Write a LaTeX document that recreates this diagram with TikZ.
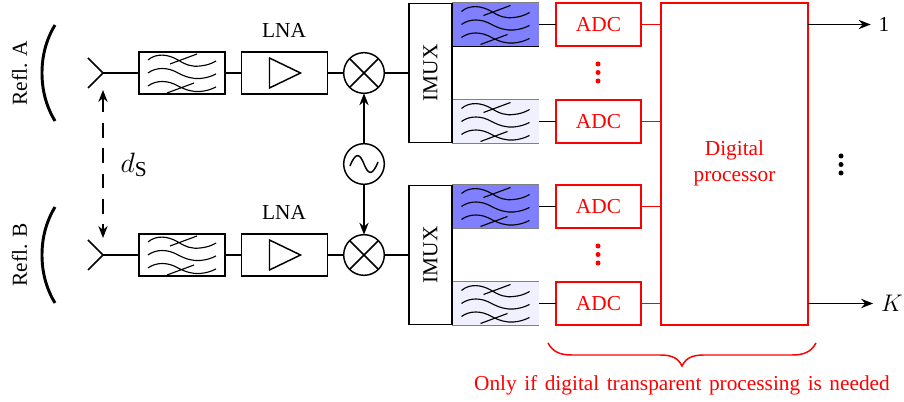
\RequirePackage{fix-cm}
\documentclass[tikz,border=0pt]{standalone}
\usepackage{fontspec}
\setmainfont{Liberation Serif}
\usetikzlibrary{arrows.meta}
\DeclareMathSizes{16}{16}{12}{9}
\DeclareMathSizes{18}{18}{13}{9}
\DeclareMathSizes{21}{21}{16}{12}
\definecolor{bluef}{HTML}{8080FF}
\definecolor{palef}{HTML}{F0F0FF}
\tikzset{
  every node/.style={font=\fontsize{16}{19}\selectfont,inner sep=0pt,outer sep=0pt},
  wire/.style={line width=1.2pt},
  arrowed/.style={line width=1.1pt,-{Stealth[length=9pt,width=7pt]}},
  box/.style={draw,line width=1.1pt,minimum width=64.5pt,minimum height=31.5pt,anchor=center},
  colourbox/.style={minimum width=65pt,minimum height=32.5pt,anchor=center},
  adcbox/.style={draw=red,text=red,line width=1.1pt,minimum width=64pt,minimum height=32pt,anchor=center},
  circ/.style={draw,circle,line width=1.1pt,minimum size=30.5pt,anchor=center},
  imuxbox/.style={draw,line width=1.1pt,minimum width=32.5pt,minimum height=104.5pt,anchor=center},
  reflector/.style={line width=2.2pt},
  redwire/.style={draw=red,line width=1.2pt},
  waves/.pic={
    \draw[line width=.85pt]
      (-34,-13) .. controls (-26,-20) and (-14,-19) .. (-4,-13) .. controls (4,-8) and (10,-6) .. (18,-7) .. controls (24,-7.5) and (29,-9) .. (34,-12)
      (-34,0) .. controls (-26,-6) and (-14,-6) .. (-4,0) .. controls (4,4) and (10,6) .. (18,5.5) .. controls (24,5) and (29,3.5) .. (34,1)
      (-34,13) .. controls (-26,7) and (-14,7) .. (-4,13) .. controls (4,17) and (10,19) .. (18,18.5) .. controls (24,18) and (29,16.5) .. (34,14)
      (-12,-9) -- (15,-19)
      (-15,20) -- (12,10);
  },
  amptri/.pic={\draw[line width=1.1pt] (-15,-15) -- (-15,15) -- (16,0) -- cycle;},
  feed/.pic={\draw[line width=1.1pt] (-15,-15) -- (0,0) -- (-15,15);},
  sinewave/.pic={\draw[line width=1.1pt] (-14,2) .. controls (-8,-13) and (-4,-10) .. (0,0) .. controls (4,10) and (8,13) .. (14,-2);},
}
\begin{document}
\begin{tikzpicture}[x=0.75pt,y=-0.75pt]
\useasboundingbox (0,0) rectangle (904,402);

% Reflectors
\draw[reflector] (55,25) .. controls (46,40) and (42,56) .. (42,73) .. controls (42,90) and (46,106) .. (55,121);
\draw[reflector] (55,207) .. controls (46,222) and (42,238) .. (42,255) .. controls (42,272) and (46,288) .. (55,303);
\node[rotate=90] (reflA) at (19.5,73) {Refl. A};
\node[rotate=90] (reflB) at (19.5,255) {Refl. B};

% Feeds
\coordinate (feedA) at (103,73);
\coordinate (feedB) at (103,255);
\pic at (feedA) {feed};
\pic at (feedB) {feed};
\coordinate (dsA) at (103,90);
\coordinate (dsB) at (103,238);
\draw[wire,line width=1pt,dash pattern=on 11pt off 8pt,{Stealth[length=9pt,width=7pt]}-{Stealth[length=9pt,width=7pt]}] (dsA) -- (dsB);
\node[font=\fontsize{21}{24}\selectfont] (ds) at (134,165) {$d_{\mathrm{S}}$};

% Channel filters
\foreach \nm/\yy/\col/\edge in {cA/24.5/bluef/gray,dA/121.5/palef/gray,cB/206.5/bluef/gray,dB/303.5/palef/gray}{
  \node[colourbox,fill=\col] (\nm) at (495.5,\yy) {};
  \draw[line width=.6pt,\edge] (\nm.north west) -- (\nm.north east);
  \draw[line width=.6pt,\edge] (\nm.south west) -- (\nm.south east);
  \pic at (\nm) {waves};
}
\draw[line width=.8pt] (cA.south west) -- (cA.south east);

% Chain A
\node[box] (filtA) at (182,73) {};
\pic at (filtA) {waves};
\node[box] (ampA) at (284.5,73) {};
\pic at (ampA) {amptri};
\node (lnaAt) at (284,30) {LNA};
\node[circ] (mixA) at (364,73) {};
\draw[wire] (mixA.45) -- (mixA.225) (mixA.135) -- (mixA.315);
\node[imuxbox] (imuxA) at (430.5,73) {};
\node[rotate=90] (imuxAt) at (430.5,73) {IMUX};

% Chain B
\node[box] (filtB) at (182,255) {};
\pic at (filtB) {waves};
\node[box] (ampB) at (284.5,255) {};
\pic at (ampB) {amptri};
\node (lnaBt) at (284,212) {LNA};
\node[circ] (mixB) at (364,255) {};
\draw[wire] (mixB.45) -- (mixB.225) (mixB.135) -- (mixB.315);
\node[imuxbox] (imuxB) at (430.5,255) {};
\node[rotate=90] (imuxBt) at (430.5,255) {IMUX};

% Oscillator
\node[circ] (lo) at (364,164) {};
\pic at (lo) {sinewave};
\draw[arrowed] (lo) -- (mixA);
\draw[arrowed] (lo) -- (mixB);

% Wires along chains
\draw[wire] (feedA) -- (filtA);
\draw[wire] (filtA) -- (ampA);
\draw[wire] (ampA) -- (mixA);
\draw[wire] (mixA) -- (imuxA);
\draw[wire] (feedB) -- (filtB);
\draw[wire] (filtB) -- (ampB);
\draw[wire] (ampB) -- (mixB);
\draw[wire] (mixB) -- (imuxB);

% Processor and ADCs
\node[draw=red,line width=1.1pt,minimum width=110pt,minimum height=241.5pt] (proc) at (734.5,164) {};
\node[text=red,align=center] (proct) at (734.5,163) {Digital\\[0.5pt]processor};
\foreach \nm/\yy/\fl in {a/24.5/cA,b/121.5/dA,c/206.5/cB,d/303.5/dB}{
  \node[adcbox] (adc\nm) at (598.5,\yy) {ADC};
  \draw[wire] (\fl.east) -- (adc\nm.west);
  \coordinate (pin\nm) at (proc.west |- adc\nm.east);
  \draw[redwire] (adc\nm.east) -- (pin\nm);
}

% Dots
\foreach \yy in {64,72.5,81}{\fill[red] (598,\yy) circle (2.5);}
\foreach \yy in {246,254.5,263}{\fill[red] (598,\yy) circle (2.5);}
\foreach \yy in {156,164.5,173}{\fill[black] (841,\yy) circle (2.5);}

% Outputs
\node (one) at (884,24.5) {1};
\node[font=\fontsize{18}{21}\selectfont] (kk) at (892,303.5) {$K$};
\coordinate (outa) at (proc.east |- adca.east);
\coordinate (outd) at (proc.east |- adcd.east);
\draw[arrowed,shorten >=6pt] (outa) -- (one.west);
\draw[arrowed,shorten >=6pt] (outd) -- (kk.west);

% Brace
\draw[red,line width=1.1pt] (548,343) .. controls (553,352) and (560,355) .. (572,355) -- (660,355) .. controls (672,355) and (678,358) .. (682,366) .. controls (686,358) and (692,355) .. (704,355) -- (792,355) .. controls (804,355) and (811,352) .. (816,343);
\node[text=red] (note) at (682,385) {\spaceskip=5.6pt Only if digital transparent processing is needed};
\end{tikzpicture}
\end{document}
